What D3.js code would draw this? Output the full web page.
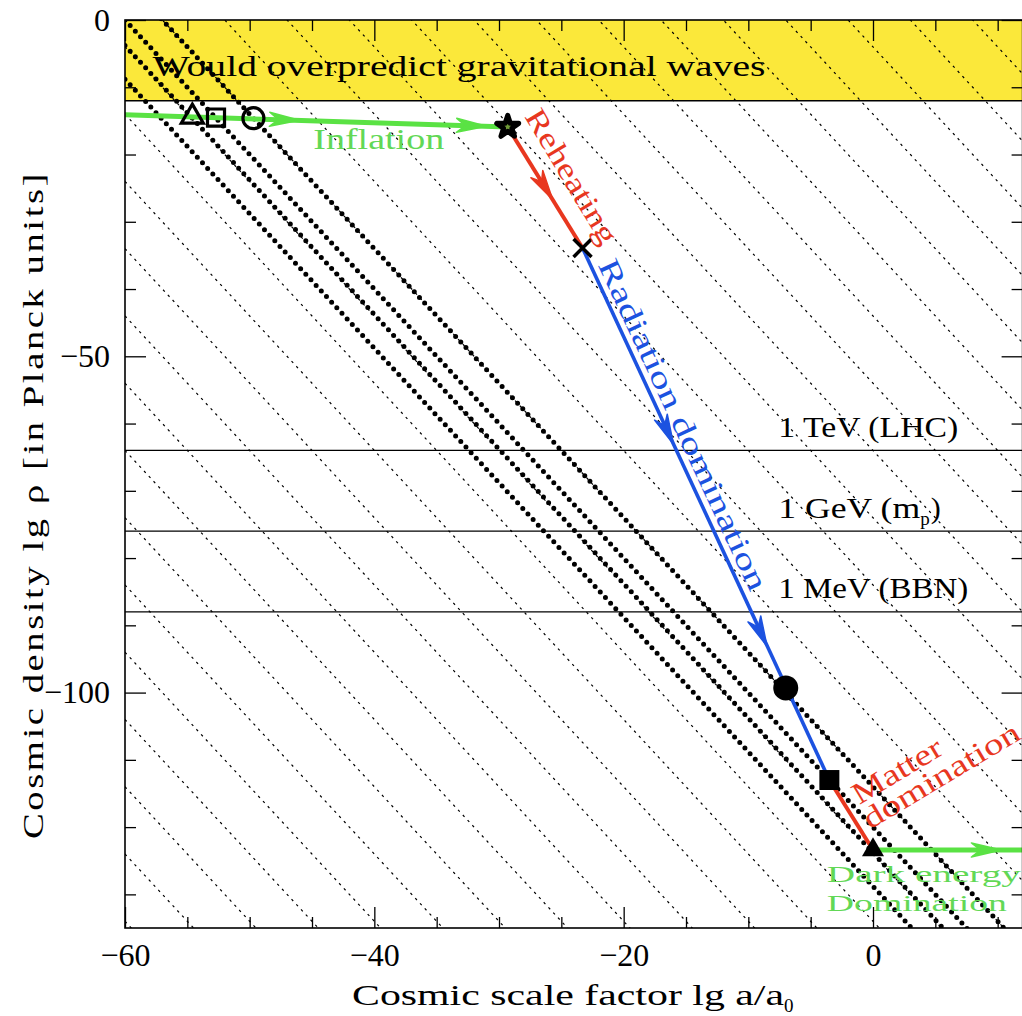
<!DOCTYPE html>
<html>
<head>
<meta charset="utf-8">
<script src="https://cdn.jsdelivr.net/npm/d3@7"></script>
<style>
  body { margin: 0; background: #fff; }
  text { font-family: "Liberation Serif", "DejaVu Serif", serif; }
</style>
</head>
<body>
<div class="chart-area"></div>
<script>
// ---- data ----
const xMajorTicks = [-60, -40, -20, 0];
const xMinorTicks = [-55, -50, -45, -35, -30, -25, -15, -10, -5, 5, 10];
const yMajorTicks = [0, -50, -100];
const yMinorTicks = [-10, -20, -30, -40, -60, -70, -80, -90, -110, -120, -130];

// horizon-crossing lines lg rho = -2 lg a + c
const thinLineOffsets = [-254, -244, -234, -224, -214, -204, -194, -184, -174, -164,
  -154, -144, -134, -124, -114, -104, -94, -84, -74, -64, -54, -44, -34, -24, -14, -4, 6, 16];
const thickLineOffsets = [-128.8, -123.8, -120, -114];

// energy scales (lg rho)
const energyDensity = [-64, -76, -88];
const energyLabels = ["1 TeV (LHC)", "1 GeV (m", "1 MeV (BBN)"];

// gravitational-wave bound
const gwBound = -12;

// history of the universe [lg a, lg rho]
const inflation = [[-60, -14.1], [-29.3, -15.9]];
const reheating = [[-29.3, -15.9], [-23.3, -33.9]];
const radiation = [[-23.3, -33.9], [-3.5, -113.0]];
const matter = [[-3.5, -113.0], [0, -123.4]];
const darkEnergy = [[0, -123.4], [12, -123.4]];

// arrow tips on the path
const inflationArrows = [[-46.0, -14.9], [-31.0, -15.8]];
const reheatingArrows = [[-25.7, -26.7]];
const radiationArrows = [[-16.0, -63.1], [-8.5, -93.1]];
const darkEnergyArrows = [[10.3, -123.4]];

// marker positions
const openTriangle = [-54.6, -14.4];
const openSquare = [-52.7, -14.5];
const openCircle = [-49.7, -14.6];
const starPoint = [-29.3, -15.9];
const crossPoint = [-23.3, -33.9];
const filledCircle = [-7.0, -99.3];
const filledSquare = [-3.5, -113.0];
const filledTriangle = [0, -123.4];

const green = "#5ae244", greenText = "#62d856", red = "#e8371f", blue = "#1c52e0", yellow = "#fbe83a";

// ---- layout ----
const width = 1022, height = 1016;
const plotLeft = 125, plotTop = 20, plotRight = 1022.6, plotBottom = 928;

const x = d3.scaleLinear().domain([-60, 12]).range([plotLeft, plotRight]);
const y = d3.scaleLinear().domain([-135, 0]).range([plotBottom, plotTop]);

const svg = d3.select(".chart-area").append("svg")
  .attr("width", width).attr("height", height);

svg.append("defs").append("clipPath").attr("id", "plot-clip")
  .append("rect").attr("x", plotLeft).attr("y", plotTop)
  .attr("width", plotRight - plotLeft).attr("height", plotBottom - plotTop);

const plot = svg.append("g").attr("clip-path", "url(#plot-clip)");

// yellow excluded region
plot.append("rect")
  .attr("x", plotLeft).attr("y", y(0))
  .attr("width", plotRight - plotLeft).attr("height", y(gwBound) - y(0))
  .attr("fill", yellow);
plot.append("line")
  .attr("x1", plotLeft).attr("x2", plotRight)
  .attr("y1", y(gwBound)).attr("y2", y(gwBound))
  .attr("stroke", "#000").attr("stroke-width", 1.5);

// thin dashed lines
plot.append("g").selectAll("line").data(thinLineOffsets).enter().append("line")
  .attr("x1", x(-60)).attr("y1", (c) => y(c + 120))
  .attr("x2", x(12)).attr("y2", (c) => y(c - 24))
  .attr("stroke", "#000").attr("stroke-width", 1.2)
  .attr("stroke-dasharray", "2.5,4.5");

// thick dotted lines
plot.append("g").selectAll("line").data(thickLineOffsets).enter().append("line")
  .attr("x1", x(-60)).attr("y1", (c) => y(c + 120))
  .attr("x2", x(12)).attr("y2", (c) => y(c - 24))
  .attr("stroke", "#000").attr("stroke-width", 5)
  .attr("stroke-linecap", "round")
  .attr("stroke-dasharray", "0,7.6");

// energy scale lines
plot.append("g").selectAll("line").data(energyDensity).enter().append("line")
  .attr("x1", plotLeft).attr("x2", plotRight)
  .attr("y1", (d) => y(d)).attr("y2", (d) => y(d))
  .attr("stroke", "#000").attr("stroke-width", 1.2);

// ---- labels inside the plot ----
const fs = 30;
plot.append("text")
  .attr("x", x(-57.8)).attr("y", y(-8.3))
  .attr("font-size", fs).attr("textLength", 613).attr("lengthAdjust", "spacingAndGlyphs")
  .text("Would overpredict gravitational waves");

svg.append("text")
  .attr("x", x(-44.9)).attr("y", y(-19.2))
  .attr("font-size", fs).attr("fill", greenText)
  .attr("textLength", 131).attr("lengthAdjust", "spacingAndGlyphs")
  .text("Inflation");

svg.append("text")
  .attr("transform", `translate(${x(-28.0)},${y(-14.3)}) rotate(59)`)
  .attr("font-size", fs).attr("fill", red)
  .attr("textLength", 152).attr("lengthAdjust", "spacingAndGlyphs")
  .text("Reheating");

svg.append("text")
  .attr("transform", `translate(${x(-22.1)},${y(-36.4)}) rotate(65)`)
  .attr("font-size", fs).attr("fill", blue)
  .attr("textLength", 362).attr("lengthAdjust", "spacingAndGlyphs")
  .text("Radiation domination");

const energyText = svg.append("g").selectAll("text").data(energyLabels).enter().append("text")
  .attr("x", x(-7.6)).attr("y", (d, i) => y(energyDensity[i] + 2))
  .attr("font-size", fs);
energyText.filter((d, i) => i !== 1)
  .attr("textLength", (d, i) => [180, 190][i]).attr("lengthAdjust", "spacingAndGlyphs")
  .text((d) => d);
const gev = energyText.filter((d, i) => i === 1);
gev.append("tspan").attr("textLength", 142).attr("lengthAdjust", "spacingAndGlyphs").text((d) => d);
gev.append("tspan").attr("dy", 7).attr("font-size", 19).text("p");
gev.append("tspan").attr("dy", -7).attr("dx", 1).text(")");

svg.append("text")
  .attr("transform", `translate(${x(-1.1)},${y(-116.7)}) rotate(-31)`)
  .attr("font-size", fs).attr("fill", red)
  .attr("textLength", 100).attr("lengthAdjust", "spacingAndGlyphs")
  .text("Matter");
plot.append("text")
  .attr("transform", `translate(${x(-0.24)},${y(-120.4)}) rotate(-31)`)
  .attr("font-size", fs).attr("fill", red)
  .attr("textLength", 178).attr("lengthAdjust", "spacingAndGlyphs")
  .text("domination");

plot.append("text")
  .attr("x", x(-3.7)).attr("y", y(-128.2))
  .attr("font-size", 24).attr("fill", greenText)
  .attr("textLength", 194).attr("lengthAdjust", "spacingAndGlyphs")
  .text("Dark energy");
plot.append("text")
  .attr("x", x(-3.7)).attr("y", y(-132.4))
  .attr("font-size", 24).attr("fill", greenText)
  .attr("textLength", 180).attr("lengthAdjust", "spacingAndGlyphs")
  .text("Domination");

// ---- evolution path ----
const line = d3.line().x((d) => x(d[0])).y((d) => y(d[1]));
const segments = [
  { pts: inflation, color: green, w: 5, arrows: inflationArrows },
  { pts: reheating, color: red, w: 4, arrows: reheatingArrows },
  { pts: radiation, color: blue, w: 3.6, arrows: radiationArrows },
  { pts: matter, color: red, w: 4, arrows: [] },
  { pts: darkEnergy, color: green, w: 5, arrows: darkEnergyArrows }
];

function arrowHead(tip, from, to) {
  const dx = x(to[0]) - x(from[0]), dy = y(to[1]) - y(from[1]);
  const len = Math.hypot(dx, dy), ux = dx / len, uy = dy / len;
  const L = 30, W = 7, vent = 0.3;
  const tx = x(tip[0]), ty = y(tip[1]);
  const bx = tx - L * ux, by = ty - L * uy;
  return `M${tx},${ty}L${bx - W * uy},${by + W * ux}` +
    `L${tx - L * (1 - vent) * ux},${ty - L * (1 - vent) * uy}` +
    `L${bx + W * uy},${by - W * ux}Z`;
}

segments.forEach((s) => {
  plot.append("path").attr("d", line(s.pts))
    .attr("fill", "none").attr("stroke", s.color).attr("stroke-width", s.w);
  s.arrows.forEach((a) => {
    plot.append("path").attr("d", arrowHead(a, s.pts[0], s.pts[1]))
      .attr("fill", s.color).attr("stroke", s.color).attr("stroke-width", 1.5)
      .attr("stroke-linejoin", "round");
  });
});

// ---- markers ----
const marker = (type, size) => d3.symbol().type(type).size(size)();
const at = (p) => `translate(${x(p[0])},${y(p[1])})`;

plot.append("path").attr("d", marker(d3.symbolTriangle, 210)).attr("transform", at(openTriangle))
  .attr("fill", "none").attr("stroke", "#000").attr("stroke-width", 3.2);
plot.append("path").attr("d", marker(d3.symbolSquare, 290)).attr("transform", at(openSquare))
  .attr("fill", "none").attr("stroke", "#000").attr("stroke-width", 3.2);
plot.append("circle").attr("r", 10.5).attr("transform", at(openCircle))
  .attr("fill", "none").attr("stroke", "#000").attr("stroke-width", 3.2);
plot.append("path").attr("d", marker(d3.symbolStar, 150)).attr("transform", at(starPoint))
  .attr("fill", "#6f9a36").attr("stroke", "#000").attr("stroke-width", 5)
  .attr("stroke-linejoin", "round");
plot.append("path").attr("d", "M-9,-9L9,9M-9,9L9,-9").attr("transform", at(crossPoint))
  .attr("stroke", "#000").attr("stroke-width", 3.5);
plot.append("circle").attr("r", 12.5).attr("transform", at(filledCircle)).attr("fill", "#000");
plot.append("path").attr("d", marker(d3.symbolSquare, 400)).attr("transform", at(filledSquare))
  .attr("fill", "#000");
plot.append("path").attr("d", marker(d3.symbolTriangle, 210)).attr("transform", at(filledTriangle))
  .attr("fill", "#000");

// ---- frame and axes ----
function addAxis(axisFn, scale, major, minor, transform, labels) {
  const g = svg.append("g").attr("transform", transform);
  g.call(axisFn(scale).tickValues(minor).tickSize(-11).tickSizeOuter(0).tickFormat(""));
  const gm = svg.append("g").attr("transform", transform);
  gm.call(axisFn(scale).tickValues(major).tickSize(-21).tickSizeOuter(0)
    .tickPadding(labels ? 15 : 0)
    .tickFormat(labels ? (d) => (d < 0 ? "\u2212" + Math.abs(d) : d) : ""));
  [g, gm].forEach((a) => {
    a.select(".domain").remove();
    a.selectAll(".tick line").attr("stroke", "#000").attr("stroke-width", 1.3);
    a.selectAll(".tick text").attr("font-family", "Liberation Serif").attr("font-size", 32).attr("fill", "#000");
  });
}
addAxis(d3.axisBottom, x, xMajorTicks, xMinorTicks, `translate(0,${plotBottom})`, true);
addAxis(d3.axisTop, x, xMajorTicks, xMinorTicks, `translate(0,${plotTop})`, false);
addAxis(d3.axisLeft, y, yMajorTicks, yMinorTicks, `translate(${plotLeft},0)`, true);
addAxis(d3.axisRight, y, yMajorTicks, yMinorTicks, `translate(${plotRight},0)`, false);

svg.append("rect")
  .attr("x", plotLeft).attr("y", plotTop)
  .attr("width", plotRight - plotLeft).attr("height", plotBottom - plotTop)
  .attr("fill", "none").attr("stroke", "#000").attr("stroke-width", 1.6);

// axis titles
const xt = svg.append("text")
  .attr("x", 352).attr("y", 1005)
  .attr("font-size", 30);
xt.append("tspan").attr("textLength", 432).attr("lengthAdjust", "spacingAndGlyphs")
  .text("Cosmic scale factor lg a/a");
xt.append("tspan").attr("dy", 7).attr("font-size", 19).text("0");

svg.append("text")
  .attr("transform", `translate(43,505) rotate(-90)`)
  .attr("text-anchor", "middle")
  .attr("font-size", 30)
  .attr("letter-spacing", 2)
  .attr("textLength", 668).attr("lengthAdjust", "spacingAndGlyphs")
  .text("Cosmic density lg \u03c1 [in Planck units]");
</script>
</body>
</html>
